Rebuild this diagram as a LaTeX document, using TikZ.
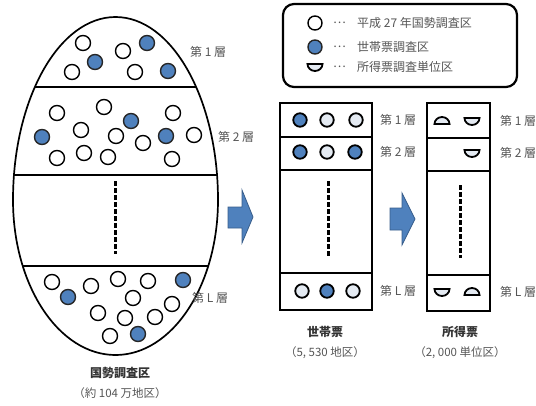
\documentclass[tikz,border=0pt]{standalone}
\usepackage{fontspec}
\setmainfont{Noto Sans CJK JP}
\definecolor{blu}{HTML}{4F81BD}
\definecolor{blud}{HTML}{385D8A}
\definecolor{tgray}{HTML}{555555}
\definecolor{dotf}{HTML}{E4EAF2}
\tikzset{
  wc/.style={circle,draw=black,line width=1.4pt,fill=white,minimum size=15pt,inner sep=0pt},
  bc/.style={circle,draw=black!85,line width=1.4pt,fill=blu,minimum size=15pt,inner sep=0pt},
  sbc/.style={circle,draw=black,line width=1.8pt,fill=blu,minimum size=13.5pt,inner sep=0pt},
  sdc/.style={circle,draw=black,line width=1.8pt,fill=dotf,minimum size=13.5pt,inner sep=0pt},
  lab/.style={anchor=west,text=tgray,font=\fontsize{12}{14}\selectfont,inner sep=0pt},
  captxt/.style={text=black!80,font=\fontsize{12}{14}\selectfont\bfseries,inner sep=0pt},
  subtxt/.style={text=tgray,font=\fontsize{11.5}{13}\selectfont,inner sep=0pt},
  boxline/.style={line width=2.6pt},
  vdash/.style={line width=3pt,dash pattern=on 5pt off 2pt},
  barrow/.style={fill=blu,draw=blud,line width=0.8pt},
  halfst/.style={fill=dotf,draw=black,line width=1.8pt},
  bowl/.pic={\filldraw[halfst] (-7.5,-3) -- (7.5,-3) arc[start angle=0,end angle=180,x radius=7.5,y radius=7] -- cycle;},
  dome/.pic={\filldraw[halfst] (-7.5,3) -- (7.5,3) arc[start angle=0,end angle=-180,x radius=7.5,y radius=7] -- cycle;},
}
\begin{document}
\begin{tikzpicture}[x=1pt,y=-1pt]
\useasboundingbox (0,0) rectangle (536,405);
% egg
\def\eggpath{(13,200) arc[start angle=180,end angle=360,x radius=102.5,y radius=183] arc[start angle=0,end angle=180,x radius=102.5,y radius=155] -- cycle}
\begin{scope}
\clip \eggpath;
\draw[line width=1.9pt] (0,87) -- (240,87);
\draw[line width=1.9pt] (0,175) -- (240,175);
\draw[line width=1.9pt] (0,266) -- (240,266);
\end{scope}
\draw[line width=1.7pt] \eggpath;
\draw[vdash] (115,181) -- (115,254);
% stratum 1
\foreach \p in {(83,43),(123,51),(72,72),(135,72)} \node[wc] at \p {};
\foreach \p in {(147,43),(95,62),(168,71)} \node[bc] at \p {};
% stratum 2
\foreach \p in {(104,107),(57,113),(173,113),(81,130),(116,136),(143,143),(194,135),(57,158),(84,153),(108,157),(172,159)} \node[wc] at \p {};
\foreach \p in {(131,121),(42,137),(166,136)} \node[bc] at \p {};
% stratum L
\foreach \p in {(52,282),(91,286),(118,279),(148,281),(133,298),(172,304),(98,313),(125,318),(155,317),(110,336)} \node[wc] at \p {};
\foreach \p in {(68,297),(183,280),(138,334)} \node[bc] at \p {};
\node[lab] (e1) at (190,52) {第 1 層};
\node[lab] (e2) at (218,137) {第 2 層};
\node[lab] (eL) at (192,298) {第 L 層};
\node[captxt] (ec) at (120,373) {国勢調査区};
\node[subtxt] (es) at (120,393) {（約 104 万地区）};
% legend
\draw[line width=2.2pt,rounded corners=11pt] (283,4) rectangle (517,87);
\node[wc,minimum size=14pt] (l1) at (315,23) {};
\node[bc,minimum size=14pt] (l2) at (315,47) {};
\pic at (315,67) {bowl};
\foreach \yy/\tt in {23/平成 27 年国勢調査区,47/世帯票調査区,67/所得票調査単位区} {
  \node[lab] at (333,\yy) {…};
  \node[lab] at (357,\yy) {\tt};
}
% arrows
\filldraw[barrow] (228,207) -- (242,207) -- (242,190) -- (253,217) -- (242,243) -- (242,228) -- (228,228) -- cycle;
\filldraw[barrow] (390,208) -- (402,208) -- (402,193) -- (415,219) -- (402,245) -- (402,230) -- (390,230) -- cycle;
% middle box
\draw[boxline] (280,103) rectangle (372,310);
\draw[boxline] (280,137) -- (372,137);
\draw[boxline] (280,170) -- (372,170);
\draw[boxline] (280,273) -- (372,273);
\draw[vdash] (328,181) -- (328,257);
\node[sbc] at (300,120) {};
\node[sdc] at (327,120) {};
\node[sdc] at (356,120) {};
\node[sbc] at (300,152) {};
\node[sdc] at (327,152) {};
\node[sbc] at (355,152) {};
\node[sdc] at (302,291) {};
\node[sbc] at (327,291) {};
\node[sdc] at (353,291) {};
\node[lab] at (380,120) {第 1 層};
\node[lab] at (380,152) {第 2 層};
\node[lab] at (380,291) {第 L 層};
\node[captxt] at (325,332) {世帯票};
\node[subtxt] at (325,353) {（5, 530 地区）};
% right box
\draw[boxline] (427,103) rectangle (490,311);
\draw[boxline] (427,138) -- (490,138);
\draw[boxline] (427,171) -- (490,171);
\draw[boxline] (427,275) -- (490,275);
\draw[vdash] (460,185) -- (460,258);
\pic at (442,121) {dome};
\pic at (472,121) {bowl};
\pic at (472,153) {bowl};
\pic at (442,292) {bowl};
\pic at (472,292) {dome};
\node[lab] at (500,121) {第 1 層};
\node[lab] at (500,153) {第 2 層};
\node[lab] at (500,292) {第 L 層};
\node[captxt] at (460,332) {所得票};
\node[subtxt] at (460,353) {（2, 000 単位区）};
\end{tikzpicture}
\end{document}
